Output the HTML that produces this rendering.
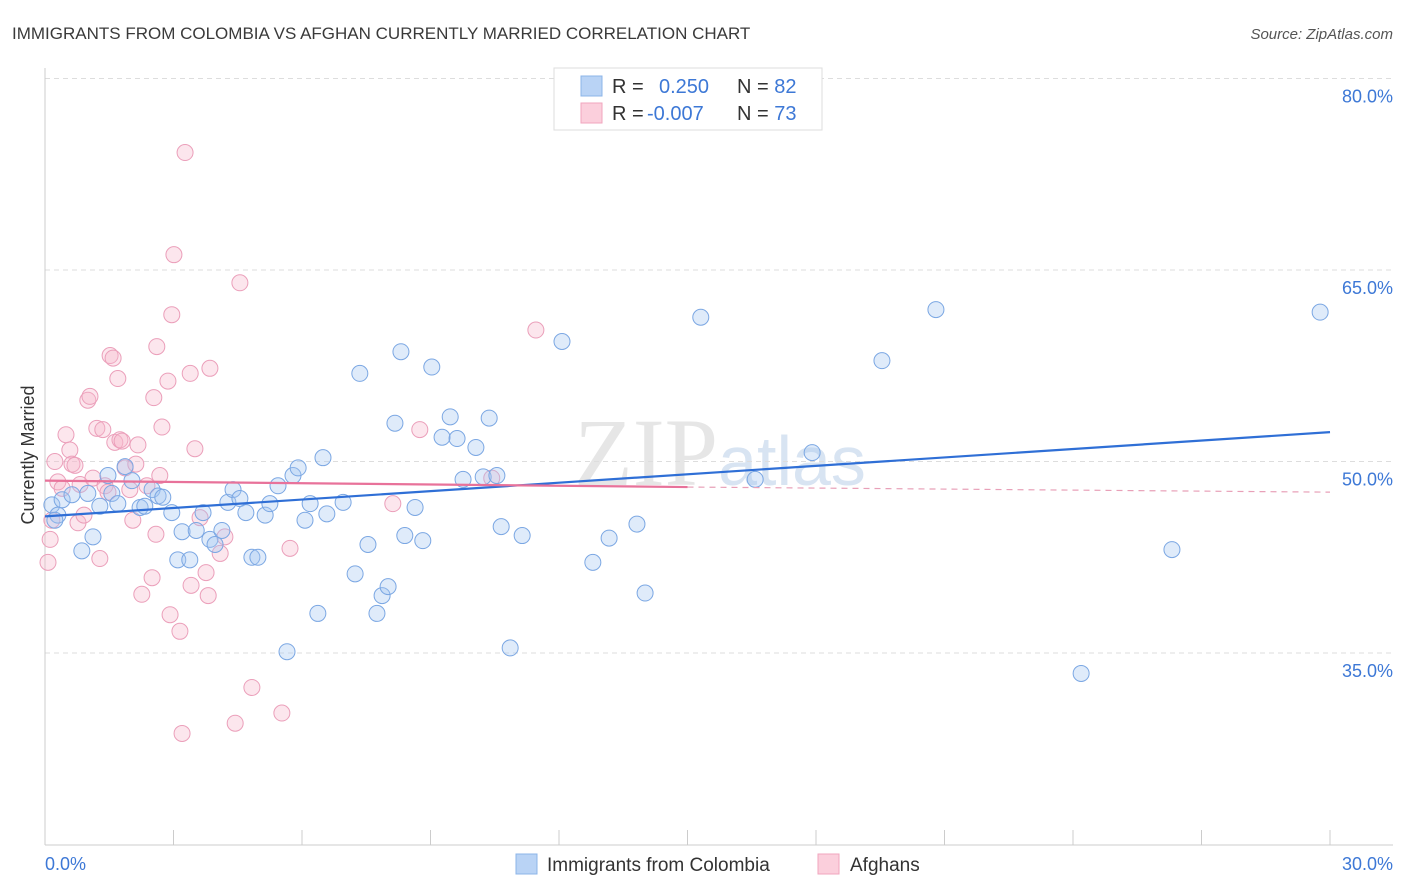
<!DOCTYPE html>
<html><head><meta charset="utf-8">
<style>
body{margin:0;background:#fff;font-family:"Liberation Sans",sans-serif;}
svg{display:block}
</style></head>
<body>
<svg id="chart" width="1406" height="892" xmlns="http://www.w3.org/2000/svg">
<text x="12" y="39" font-size="17" fill="#3a3a3a">IMMIGRANTS FROM COLOMBIA VS AFGHAN CURRENTLY MARRIED CORRELATION CHART</text>
<text x="1393" y="39" font-size="15" fill="#555" font-style="italic" text-anchor="end">Source: ZipAtlas.com</text>
<text x="720" y="485" font-size="96" fill="#e6e6e6" text-anchor="middle" font-family="Liberation Serif,serif">ZIP<tspan fill="#d8e4f2" font-family="Liberation Sans,sans-serif" font-size="70">atlas</tspan></text>
<g id="grid"></g>
<g id="axes"></g>
<g id="pts"></g>
<g id="trend"></g>
<text transform="translate(34,455) rotate(-90)" font-size="18" fill="#333" text-anchor="middle">Currently Married</text>
<g>
<rect x="554" y="68" width="268" height="62" fill="#fff" stroke="#ddd"/>
<rect x="581" y="76" width="21" height="20" fill="#b9d3f5" stroke="#8cb4e8"/>
<rect x="581" y="103" width="21" height="20" fill="#fbcfdc" stroke="#f0a5be"/>
<text x="612" y="93" font-size="20" fill="#333">R = <tspan x="659" fill="#3d78d6">0.250</tspan></text>
<text x="737" y="93" font-size="20" fill="#333">N = <tspan fill="#3d78d6">82</tspan></text>
<text x="612" y="120" font-size="20" fill="#333">R = <tspan x="647" fill="#3d78d6">-0.007</tspan></text>
<text x="737" y="120" font-size="20" fill="#333">N = <tspan fill="#3d78d6">73</tspan></text>
</g>
<g>
<rect x="516" y="854" width="21" height="20" fill="#b9d3f5" stroke="#8cb4e8"/>
<text x="547" y="871" font-size="19" fill="#333">Immigrants from Colombia</text>
<rect x="818" y="854" width="21" height="20" fill="#fbcfdc" stroke="#f0a5be"/>
<text x="850" y="871" font-size="19" fill="#333">Afghans</text>
</g>
</svg>
<script>
const yTicks=[80,65,50,35];
const yTickLabels=["80.0%","65.0%","50.0%","35.0%"];
const xTickLabels=["0.0%","30.0%"];
const blueX=[0.16,0.30,0.23,0.40,0.63,0.86,1.00,1.12,1.28,1.47,1.56,1.70,1.87,2.03,2.22,2.33,2.50,2.64,2.75,2.96,3.10,3.20,3.38,3.53,3.69,3.85,3.97,4.13,4.27,4.39,4.55,4.69,4.83,4.97,5.14,5.25,5.44,5.65,5.79,5.91,6.07,6.19,6.37,6.49,6.58,6.96,7.24,7.35,7.54,7.75,7.87,8.01,8.17,8.31,8.40,8.64,8.82,9.03,9.27,9.46,9.62,9.76,10.06,10.23,10.37,10.55,10.65,10.86,11.14,12.07,12.79,13.17,13.82,14.01,15.31,16.58,17.91,19.54,20.80,24.19,26.31,29.77];
const blueY=[46.6,45.8,45.4,47.0,47.4,43.0,47.5,44.1,46.5,48.9,47.5,46.7,49.6,48.5,46.4,46.5,47.8,47.3,47.2,46.0,42.3,44.5,42.3,44.6,46.0,43.9,43.5,44.6,46.8,47.8,47.1,46.0,42.5,42.5,45.8,46.7,48.1,35.1,48.9,49.5,45.4,46.7,38.1,50.3,45.9,46.8,41.2,56.9,43.5,38.1,39.5,40.2,53.0,58.6,44.2,46.4,43.8,57.4,51.9,53.5,51.8,48.6,51.1,48.8,53.4,48.9,44.9,35.4,44.2,59.4,42.1,44.0,45.1,39.7,61.3,48.6,50.7,57.9,61.9,33.4,43.1,61.7];
const pinkX=[0.07,0.12,0.16,0.23,0.30,0.40,0.49,0.58,0.63,0.70,0.77,0.82,0.91,1.00,1.05,1.12,1.21,1.28,1.35,1.40,1.47,1.52,1.59,1.63,1.70,1.75,1.80,1.87,1.98,2.05,2.12,2.17,2.26,2.38,2.50,2.54,2.59,2.61,2.68,2.73,2.87,2.92,2.96,3.01,3.15,3.20,3.27,3.39,3.41,3.50,3.62,3.76,3.81,3.85,4.09,4.20,4.44,4.55,4.83,5.53,5.72,8.12,8.75,11.46,10.43];
const pinkY=[42.1,43.9,45.4,50.0,48.4,47.9,52.1,50.9,49.8,49.7,45.2,48.2,45.8,54.8,55.1,48.7,52.6,42.4,52.5,48.1,47.6,58.3,58.1,51.5,56.5,51.7,51.6,49.5,47.8,45.4,49.8,51.3,39.6,48.1,40.9,55.0,44.3,59.0,48.9,52.7,56.3,38.0,61.5,66.2,36.7,28.7,74.2,56.9,40.3,51.0,45.6,41.3,39.5,57.3,42.8,44.1,29.5,64.0,32.3,30.3,43.2,46.7,52.5,60.3,48.7];
const blueTrend=[45.7,52.3];
const pinkTrend=[48.5,48.0,47.6];
const NS="http://www.w3.org/2000/svg";
const sx=v=>45+v/30*1285;
const sy=v=>78.5+(80-v)*12.767;
function mk(tag,attrs,parent){const e=document.createElementNS(NS,tag);for(const k in attrs)e.setAttribute(k,attrs[k]);document.getElementById(parent).appendChild(e);return e;}
yTicks.forEach((t,i)=>{
 const l=mk('line',{x1:45,x2:1393,y1:sy(t),y2:sy(t),stroke:'#ddd','stroke-dasharray':'5,4'},'grid');
 
 
 const tx=mk('text',{x:1393,y:sy(t)+24,'font-size':18,fill:'#3d78d6','text-anchor':'end'},'grid');
 tx.textContent=yTickLabels[i];
 
 
});
const a1=mk('line',{x1:45,x2:45,y1:68,y2:845,stroke:'#ccc'},'axes');


const a2=mk('line',{x1:45,x2:1393,y1:845,y2:845,stroke:'#ccc'},'axes');


for(let v=0;v<=30;v+=3){
 const t=mk('line',{x1:sx(v),x2:sx(v),y1:830,y2:845,stroke:'#ccc'},'axes');
 
 
}
const xl0=mk('text',{x:45,y:870,'font-size':18,fill:'#3d78d6'},'axes');
xl0.textContent=xTickLabels[0];


const xl1=mk('text',{x:1393,y:870,'font-size':18,fill:'#3d78d6','text-anchor':'end'},'axes');
xl1.textContent=xTickLabels[1];


pinkX.forEach((x,i)=>{
 const c=mk('circle',{cx:sx(x),cy:sy(pinkY[i]),r:8,fill:'rgba(246,182,204,0.35)',stroke:'#eb9fba','stroke-width':1},'pts');
 
 
});
blueX.forEach((x,i)=>{
 const c=mk('circle',{cx:sx(x),cy:sy(blueY[i]),r:8,fill:'rgba(164,198,242,0.35)',stroke:'#7ba7e3','stroke-width':1},'pts');
 
 
});
const bt=mk('line',{x1:sx(0),y1:sy(blueTrend[0]),x2:sx(30),y2:sy(blueTrend[1]),stroke:'#2f6fd6','stroke-width':2.2},'trend');


const pt=mk('line',{x1:sx(0),y1:sy(pinkTrend[0]),x2:sx(15),y2:sy(pinkTrend[1]),stroke:'#e8729a','stroke-width':2.2},'trend');


const pd=mk('line',{x1:sx(15),y1:sy(pinkTrend[1]),x2:sx(30),y2:sy(pinkTrend[2]),stroke:'#e8a0b8','stroke-width':1.2,'stroke-dasharray':'6,5'},'trend');


</script>
</body></html>
